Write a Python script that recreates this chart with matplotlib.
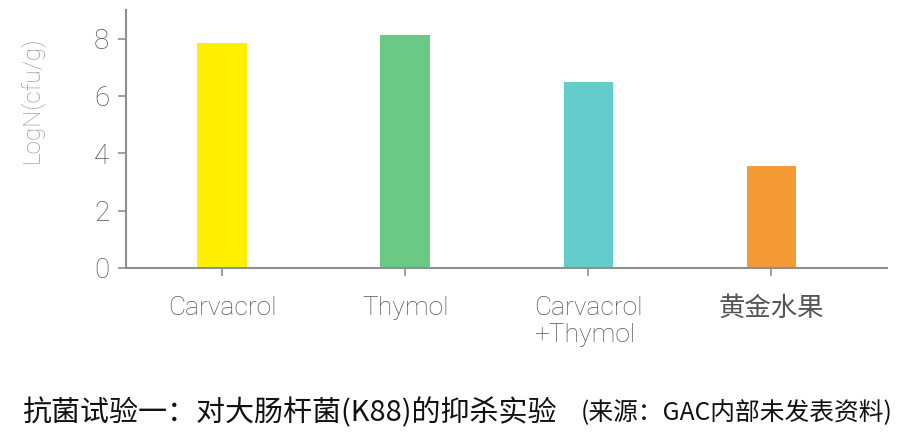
import matplotlib
matplotlib.use("Agg")
import matplotlib.pyplot as plt

# data
categories = ["Carvacrol", "Thymol", "Carvacrol\n+Thymol", "黄金水果"]
log_counts = [7.85, 8.13, 6.47, 3.55]
bar_colors = ["#fff000", "#69c985", "#65cccc", "#f59b36"]
y_ticks = [0, 2, 4, 6, 8]

caption_main = "抗菌试验一：对大肠杆菌(K88)的抑杀实验"
caption_source = "(来源：GAC内部未发表资料)"

plt.rcParams["font.family"] = ["Roboto", "Noto Sans CJK SC", "DejaVu Sans"]

fig = plt.figure(figsize=(9.05, 4.48), dpi=100)
ax = fig.add_axes([0.139, 0.402, 0.841, 0.576])

x = list(range(len(categories)))
ax.bar(x, log_counts, width=0.27, color=bar_colors)

ax.set_xlim(-0.525, 3.63)
ax.set_ylim(0, 9)
ax.set_yticks(y_ticks)
ax.set_xticks(x)
ax.set_xticklabels(categories, multialignment="left",
                   family=["Roboto", "Noto Sans CJK SC"], fontweight="light")

for side in ("top", "right"):
    ax.spines[side].set_visible(False)
for side in ("left", "bottom"):
    ax.spines[side].set_color("#8f8f8f")
    ax.spines[side].set_linewidth(1.5)

ax.tick_params(axis="both", colors="#8f8f8f", width=1.2, length=6,
               labelcolor="#555555")
ax.tick_params(axis="y", labelsize=20, pad=6)
ax.tick_params(axis="x", labelsize=19, pad=14)
for lbl in ax.get_yticklabels():
    lbl.set_fontweight("light")

ax.set_ylabel("LogN(cfu/g)", fontsize=17.5, color="#999999",
              fontweight="light")
ax.yaxis.set_label_coords(-0.108, 0.65)

fig.text(22 / 905, 1 - 413 / 448, caption_main, fontsize=20.9, color="#111111",
         family=["Noto Sans CJK SC", "DejaVu Sans"], fontweight="medium",
         ha="left", va="center")
fig.text(893 / 905, 1 - 413 / 448, caption_source, fontsize=17.8,
         color="#111111", family=["Noto Sans CJK SC", "DejaVu Sans"],
         fontweight="medium", ha="right", va="center")

fig.savefig("out.png", dpi=100)
